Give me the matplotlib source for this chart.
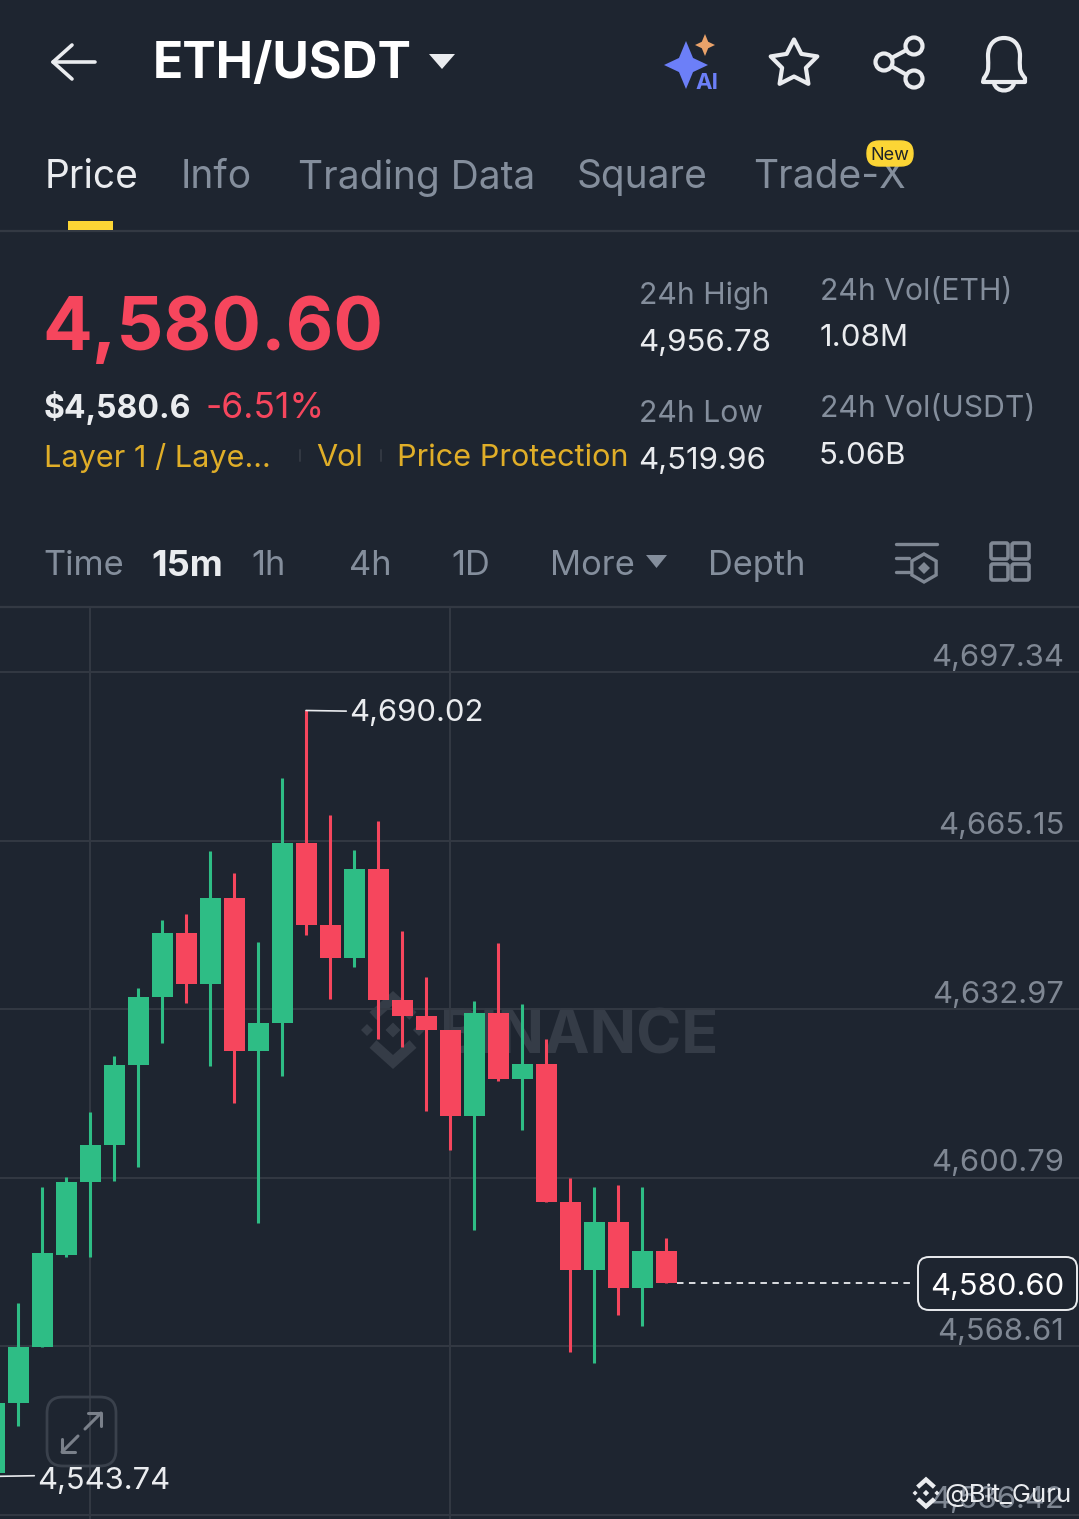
import math
import matplotlib
matplotlib.use('Agg')
import matplotlib.pyplot as plt
from matplotlib.patches import FancyBboxPatch, Polygon, Circle, PathPatch, Rectangle
from matplotlib.path import Path

plt.rcParams['font.family'] = ['Inter', 'DejaVu Sans']

BG = '#1E2530'
GREEN = '#2EBD85'
RED = '#F6465D'
GRID = '#333943'
GREY = '#848E9C'
AXIS_GREY = '#7F8793'
LIGHT = '#EAECEF'
GOLD = '#E0AE28'
YELLOW = '#FCD535'

# candle data (index 0 is cut by the left edge)
opens = [4544.39, 4557.81, 4568.51, 4586.02, 4600.02, 4607.03, 4622.31, 4635.39, 4647.52, 4637.78, 4654.26,
         4625.04, 4630.33, 4664.71, 4649.05, 4642.71, 4659.84, 4634.73, 4631.67, 4629.00, 4612.57, 4632.30,
         4619.58, 4622.50, 4596.20, 4583.16, 4592.33, 4579.72, 4586.79]
closes = [4557.81, 4568.51, 4586.41, 4600.02, 4607.03, 4622.31, 4635.39, 4647.52, 4637.78, 4654.26, 4625.04,
          4630.33, 4664.71, 4649.05, 4642.71, 4659.84, 4634.73, 4631.67, 4629.00, 4612.57, 4632.30, 4619.58,
          4622.50, 4596.20, 4583.16, 4592.33, 4579.72, 4586.79, 4580.60]
highs = [4557.81, 4576.91, 4599.01, 4600.92, 4613.33, 4624.03, 4637.02, 4650.00, 4651.15, 4663.18, 4658.98,
         4645.80, 4677.12, 4690.02, 4670.06, 4663.37, 4668.97, 4647.96, 4639.12, 4629.00, 4634.53, 4645.61,
         4633.96, 4627.33, 4600.73, 4599.01, 4599.39, 4599.01, 4589.27]
lows = [4543.74, 4553.36, 4568.51, 4585.64, 4585.64, 4600.21, 4602.89, 4626.51, 4634.15, 4622.18, 4615.05,
        4592.14, 4620.21, 4647.14, 4634.92, 4641.09, 4627.28, 4625.75, 4613.53, 4606.08, 4590.80, 4619.25,
        4609.90, 4596.20, 4567.55, 4565.45, 4574.62, 4572.46, 4580.60]
grid_prices = [4697.34, 4665.15, 4632.97, 4600.79, 4568.61, 4536.42]
grid_labels = ['4,697.34', '4,665.15', '4,632.97', '4,600.79', '4,568.61', '4,536.42']
last_price = 4580.60

W, H = 1079, 1519
fig = plt.figure(figsize=(W / 100, H / 100), dpi=100, facecolor=BG)

# ui layer in pixel coords
ui = fig.add_axes([0, 0, 1, 1], zorder=0)
ui.set_xlim(0, W)
ui.set_ylim(H, 0)
ui.axis('off')

# chart layer
CH_TOP = 608
ax = fig.add_axes([0, 0, 1, (H - CH_TOP) / H], zorder=1)
ax.patch.set_alpha(0)
ax.set_xlim(0.25, 0.25 + W / 24)
PX_PER_USD = 5.236
ax.set_ylim(4665.15 - (H - 840.7) / PX_PER_USD, 4665.15 + (840.7 - CH_TOP) / PX_PER_USD)
for s in ax.spines.values():
    s.set_visible(False)
ax.set_xticks([])
ax.set_yticks([])


def t(x, y, s, size, color, weight='normal', ha='left', va='center', axis=ui, **kw):
    return axis.text(x, y, s, fontsize=size, color=color, fontweight=weight, ha=ha, va=va,
                     transform=ui.transData, clip_on=False, **kw)


def line(xs, ys, color, lw, axis=ui, zorder=3, **kw):
    axis.plot(xs, ys, color=color, lw=lw, transform=ui.transData, zorder=zorder,
              solid_capstyle='round', clip_on=False, **kw)


def logo(axis, cx, cy, s, color, zorder=1):
    # exchange mark: centre and side diamonds with two chevrons
    for dx, r in [(0, 7.5), (-26, 6), (26, 6)]:
        axis.add_patch(Polygon([(cx + dx * s, cy - r * s), (cx + dx * s + r * s, cy),
                                (cx + dx * s, cy + r * s), (cx + dx * s - r * s, cy)],
                               fc=color, ec='none', zorder=zorder, transform=ui.transData, clip_on=False))
    lw = 7.5 * s
    for sign in (-1, 1):
        axis.plot([cx - 20 * s, cx, cx + 20 * s],
                  [cy + sign * 14 * s, cy + sign * 32 * s, cy + sign * 14 * s],
                  color=color, lw=lw, solid_joinstyle='miter', solid_capstyle='butt',
                  transform=ui.transData, zorder=zorder, clip_on=False)


def sparkle(cx, cy, w, h, color):
    k = min(w, h) * 0.32
    ui.add_patch(Polygon([(cx, cy - h), (cx + k, cy - k), (cx + w, cy), (cx + k, cy + k),
                          (cx, cy + h), (cx - k, cy + k), (cx - w, cy), (cx - k, cy - k)],
                         fc=color, ec='none'))


# header
line([53, 95], [62, 62], LIGHT, 2.6)
line([72, 53, 72], [45, 62, 79], LIGHT, 2.6)
t(153, 64, 'ETH/USDT', 36, 'white', 'bold')
ui.add_patch(Polygon([(429, 54), (455, 54), (442, 69)], fc=LIGHT, ec='none'))
sparkle(686, 65, 22, 24, '#6C7FF8')
sparkle(705, 45, 10, 11, '#E9A26A')
t(707, 83, 'AI', 16, '#6C7FF8', 'bold', ha='center')

star = []
for i in range(10):
    r = 24.5 if i % 2 == 0 else 12.5
    a = math.radians(-90 + 36 * i)
    star.append((794 + r * math.cos(a), 64 + r * math.sin(a)))
ui.add_patch(Polygon(star, fc='none', ec=LIGHT, lw=3, joinstyle='round'))

line([884, 914], [62, 46], LIGHT, 3)
line([884, 914], [62, 79], LIGHT, 3)
for cx, cy in [(884, 62), (914, 46), (914, 79)]:
    ui.add_patch(Circle((cx, cy), 8.5, fc=BG, ec=LIGHT, lw=3, zorder=4))

bell = Path([(984, 78), (990, 70), (988, 66), (988, 56), (988, 44), (995, 38), (1004, 38),
             (1013, 38), (1020, 44), (1020, 56), (1020, 66), (1018, 70), (1025, 78),
             (1025, 82), (983, 82), (984, 78)],
            [Path.MOVETO] + [Path.CURVE4] * 12 + [Path.LINETO, Path.LINETO, Path.CLOSEPOLY])
ui.add_patch(PathPatch(bell, fc='none', ec=LIGHT, lw=3, joinstyle='round'))
ui.add_patch(PathPatch(Path([(994, 83), (996, 93), (1012, 93), (1014, 83)],
                            [Path.MOVETO, Path.CURVE4, Path.CURVE4, Path.CURVE4]),
                       fc='none', ec=LIGHT, lw=3))

# tabs
tabs = ['Price', 'Info', 'Trading Data', 'Square', 'Trade-X']
tab_x = [45, 181, 298, 577, 753]
for i, (lab, x) in enumerate(zip(tabs, tab_x)):
    t(x, 178, lab, 28, LIGHT if i == 0 else GREY)
ui.add_patch(FancyBboxPatch((867, 141), 46, 25, boxstyle='round,pad=0,rounding_size=12', fc=YELLOW, ec=YELLOW,
                            lw=1, zorder=4))
t(890, 155, 'New', 13, '#1E2329', ha='center', zorder=5)
ui.add_patch(Rectangle((68, 221), 45, 9, fc=YELLOW, ec='none', zorder=4))
line([0, W], [231, 231], GRID, 1.6, zorder=2)
line([0, W], [607, 607], GRID, 1.6, zorder=2)

# price block
t(42, 331, '4,580.60', 53, RED, 'bold')
t(44, 408, '$4,580.6', 23, LIGHT, 'bold')
t(206, 408, '-6.51%', 25.5, RED)
t(44, 458, 'Layer 1 / Laye...', 22.1, GOLD)
t(316, 458, 'Vol', 22.1, GOLD)
t(397, 458, 'Price Protection', 22.1, GOLD)
line([300, 300], [450, 461], GRID, 1.4)
line([381, 381], [450, 461], GRID, 1.4)
t(639, 296, '24h High', 21.7, GREY)
t(638, 343, '4,956.78', 22.5, LIGHT)
t(639, 414, '24h Low', 21.7, GREY)
t(638, 461, '4,519.96', 22.5, LIGHT)
t(820, 292, '24h Vol(ETH)', 21.7, GREY)
t(820, 338, '1.08M', 22.5, LIGHT)
t(820, 409, '24h Vol(USDT)', 21.7, GREY)
t(819, 456, '5.06B', 22.5, LIGHT)

# timeframe row
frames = ['Time', '15m', '1h', '4h', '1D', 'More', 'Depth']
frame_x = [43, 151, 251, 349, 451, 550, 708]
for lab, x in zip(frames, frame_x):
    if lab == '15m':
        t(x, 566, lab, 26, LIGHT, 'bold')
    else:
        t(x, 566, lab, 24.8, GREY)
ui.add_patch(Polygon([(646, 555), (667, 555), (656.5, 568)], fc=GREY, ec='none'))
line([896, 937], [544, 544], AXIS_GREY, 2.4)
line([896, 909], [558, 558], AXIS_GREY, 2.4)
line([896, 909], [572, 572], AXIS_GREY, 2.4)
hexa = [(924 + 14 * math.sin(math.radians(60 * i)), 568 - 14 * math.cos(math.radians(60 * i))) for i in range(6)]
ui.add_patch(Polygon(hexa, fc='none', ec=AXIS_GREY, lw=2.4))
ui.add_patch(Polygon([(924, 562), (930, 568), (924, 574), (918, 568)], fc=AXIS_GREY, ec='none'))
for x0 in (991, 1012):
    for y0 in (543, 564):
        ui.add_patch(FancyBboxPatch((x0, y0), 17, 16, boxstyle='round,pad=0,rounding_size=2',
                                    fc='none', ec=AXIS_GREY, lw=2.6))

# watermark sits under the candles
logo(ui, 393, 1030, 1.0, '#353C47')
t(440, 1038, 'BINANCE', 44, '#353C47', 'bold')

# grid
for p in grid_prices:
    ax.axhline(p, color=GRID, lw=1.4, zorder=1)
for idx in (4, 19):
    ax.axvline(idx, color=GRID, lw=1.4, zorder=1)

# candles
xs = list(range(len(opens)))
colors = [GREEN if c >= o else RED for o, c in zip(opens, closes)]
ax.vlines(xs, lows, highs, colors=colors, lw=2.2, zorder=3)
ax.bar(xs, [abs(c - o) for o, c in zip(opens, closes)], bottom=[min(o, c) for o, c in zip(opens, closes)],
       width=0.875, color=colors, zorder=4)

# axis labels
for p, lab in zip(grid_prices, grid_labels):
    ax.annotate(lab, xy=(1064 / 24 + 0.25, p), xytext=(0, 10.5), textcoords='offset points', ha='right',
                va='center', fontsize=22.3, color=AXIS_GREY, zorder=2, annotation_clip=False)

# high / low markers
hi = highs.index(max(highs))
lo = lows.index(min(lows))
ax.annotate(f'{highs[hi]:,.2f}', xy=(hi, highs[hi]), xytext=(31, -1.5), textcoords='offset points', va='center',
            fontsize=22.3, color=LIGHT, zorder=6, annotation_clip=False,
            arrowprops=dict(arrowstyle='-', color=LIGHT, lw=1.2, shrinkA=0, shrinkB=0, relpos=(0, 0.55)))
ax.annotate(f'{lows[lo]:,.2f}', xy=(lo, lows[lo]), xytext=(31, -3.5), textcoords='offset points', va='center',
            fontsize=22.3, color=LIGHT, zorder=6, annotation_clip=False,
            arrowprops=dict(arrowstyle='-', color=LIGHT, lw=1.2, shrinkA=0, shrinkB=0, relpos=(0, 0.7)))

# last price
ax.hlines(last_price, len(opens) - 1 + 0.45, 912 / 24 + 0.25, colors=LIGHT, lw=1.3, linestyles=(0, (3.6, 3)), zorder=5)
ax.add_patch(FancyBboxPatch((918, 1257), 159, 53, boxstyle='round,pad=0,rounding_size=11', fc=BG, ec=LIGHT, lw=1.4,
                            transform=ui.transData, zorder=7, clip_on=False))
t(1064, 1287, f'{last_price:,.2f}', 22.3, 'white', ha='right', axis=ax, zorder=8)

# expand button
ax.add_patch(FancyBboxPatch((47, 1397), 69, 69, boxstyle='round,pad=0,rounding_size=16', fc='none', ec='#3A414C', lw=2,
                            transform=ui.transData, zorder=2, clip_on=False))
line([85, 101], [1429, 1413], '#7A808A', 2.2, axis=ax)
line([88, 101, 101], [1413, 1413, 1426], '#7A808A', 2.2, axis=ax)
line([62, 78], [1452, 1436], '#7A808A', 2.2, axis=ax)
line([62, 62, 75], [1439, 1452, 1452], '#7A808A', 2.2, axis=ax)

# repost credit on top
logo(ax, 926, 1493, 0.42, LIGHT, zorder=9)
t(944, 1495, '@Bit_Guru', 18.5, LIGHT, axis=ax, zorder=9)

fig.savefig('out.png', dpi=100, facecolor=BG)
